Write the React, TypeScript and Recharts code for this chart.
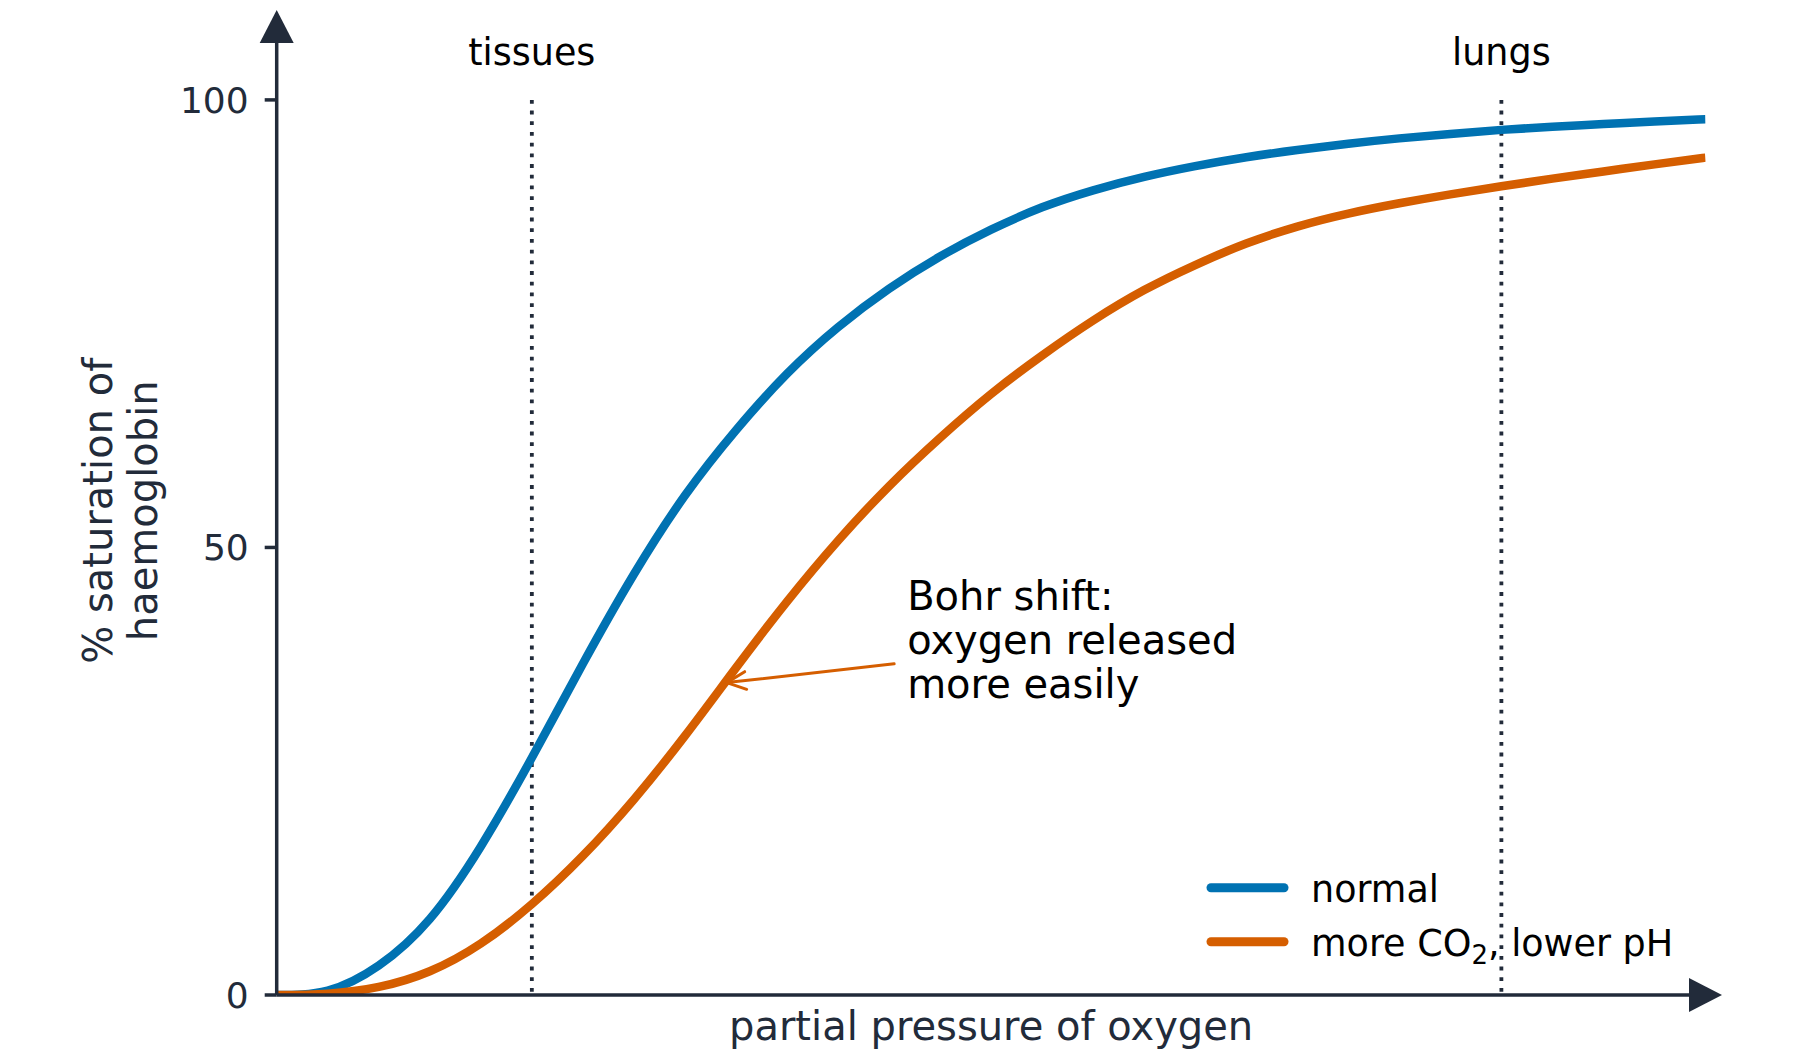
import React from "react";
import { LineChart, Line, XAxis, YAxis, ReferenceLine, ReferenceDot, Legend } from "recharts";

// partial pressure of oxygen (kPa)
const pressure = [
  0, 0.5, 1, 1.5, 2, 2.5, 3, 3.5, 4, 4.5, 5, 5.5, 6, 6.5, 7, 7.5, 8, 8.5, 9, 9.5, 10, 10.5, 11, 11.5,
  12, 12.5, 13, 13.5, 14,
];
// % saturation, normal conditions
const normalSat = [
  0, 0.5, 3.3, 8.5, 16.6, 26.5, 37.0, 47.0, 55.8, 63.1, 69.4, 74.6, 78.9, 82.5, 85.5, 88.0, 89.9, 91.4,
  92.6, 93.6, 94.4, 95.1, 95.7, 96.2, 96.65, 97.0, 97.3, 97.6, 97.85,
];
// % saturation with more CO2 / lower pH
const shiftedSat = [
  0, 0.15, 0.9, 2.65, 5.75, 10.15, 15.55, 21.85, 28.95, 36.55, 43.95, 50.75, 56.85, 62.25, 67.15, 71.45,
  75.35, 78.75, 81.55, 83.95, 85.85, 87.3, 88.45, 89.45, 90.35, 91.2, 92.0, 92.8, 93.55,
];

const yTicks = [0, 50, 100];
const markers = [
  { p: 2.5, label: "tissues" },
  { p: 12, label: "lungs" },
];
const bohrArrow = [
  { x: 6.05, y: 37 },
  { x: 4.41, y: 34.9 },
];
const bohrText = ["Bohr shift:", "oxygen released", "more easily"];

const X_MAX = 14;
const Y_MAX = 108.2;

const AXIS = "#222b3a";
const BLUE = "#0072B2";
const ORANGE = "#D55E00";
const FONT = "'DejaVu Sans', sans-serif";

const data = pressure.map((p, i) => ({ p, normal: normalSat[i], shifted: shiftedSat[i] }));

const UpArrow = (props: any) => {
  const { cx, cy } = props;
  return <path d={`M${cx - 17},${cy + 16.5} L${cx + 17},${cy + 16.5} L${cx},${cy - 16.5} Z`} fill={AXIS} />;
};

const RightArrow = (props: any) => {
  const { cx, cy } = props;
  return <path d={`M${cx - 16.5},${cy - 17} L${cx + 16.5},${cy} L${cx - 16.5},${cy + 17} Z`} fill={AXIS} />;
};

// annotation arrow plus its text block, anchored at the tail
const BohrArrow = (props: any) => {
  const { x1, y1, x2, y2 } = props;
  const dx = x1 - x2;
  const dy = y1 - y2;
  const len = Math.hypot(dx, dy);
  const ux = dx / len;
  const uy = dy / len;
  const head = 21;
  const a = (25 * Math.PI) / 180;
  const arm = (s: number) => {
    const c = Math.cos(a * s);
    const sn = Math.sin(a * s);
    return [x2 + head * (ux * c - uy * sn), y2 + head * (ux * sn + uy * c)];
  };
  const [ax1, ay1] = arm(1);
  const [ax2, ay2] = arm(-1);
  return (
    <g>
      <line x1={x1} y1={y1} x2={x2} y2={y2} stroke={ORANGE} strokeWidth={3} strokeLinecap="round" />
      <path
        d={`M${ax1},${ay1} L${x2},${y2} L${ax2},${ay2}`}
        fill="none"
        stroke={ORANGE}
        strokeWidth={3}
        strokeLinecap="round"
        strokeLinejoin="round"
      />
      {bohrText.map((t, i) => (
        <text key={t} x={x1 + 13} y={y1 - 54 + i * 44} fill="#000" fontSize={40} fontFamily={FONT}>
          {t}
        </text>
      ))}
    </g>
  );
};

const legendName = (name: string) => {
  const idx = name.indexOf("CO2");
  if (idx < 0) return name;
  return (
    <>
      {name.slice(0, idx + 2)}
      <tspan dy={8} fontSize={26}>
        2
      </tspan>
      <tspan dy={-8}>{name.slice(idx + 3)}</tspan>
    </>
  );
};

const renderLegend = (props: any) => {
  const items = props.payload ?? [];
  return (
    <svg width={520} height={110} style={{ display: "block", overflow: "visible" }}>
      {items.map((item: any, i: number) => {
        const cy = 27.7 + i * 54;
        return (
          <g key={String(item.value)}>
            <line x1={21} x2={94} y1={cy} y2={cy} stroke={item.color} strokeWidth={9} strokeLinecap="round" />
            <text x={121} y={cy + 14} fill="#000" fontSize={36.5} fontFamily={FONT}>
              {legendName(String(item.value))}
            </text>
          </g>
        );
      })}
    </svg>
  );
};

const YLabel = (props: any) => {
  const { viewBox } = props;
  const cy = viewBox.y + viewBox.height / 2;
  const lines = [
    { x: viewBox.x + 112, t: "% saturation of" },
    { x: viewBox.x + 157, t: "haemoglobin" },
  ];
  return (
    <g>
      {lines.map((l) => (
        <text
          key={l.t}
          x={l.x}
          y={cy}
          transform={`rotate(-90 ${l.x} ${cy})`}
          textAnchor="middle"
          fill={AXIS}
          fontSize={40}
          fontFamily={FONT}
        >
          {l.t}
        </text>
      ))}
    </g>
  );
};

const XLabel = (props: any) => {
  const { viewBox } = props;
  return (
    <text
      x={viewBox.x + viewBox.width / 2}
      y={viewBox.y + 45}
      textAnchor="middle"
      fill={AXIS}
      fontSize={40}
      fontFamily={FONT}
    >
      partial pressure of oxygen
    </text>
  );
};

export default function App() {
  return (
    <div style={{ position: "absolute", left: 0, top: 0, width: 1800, height: 1064, background: "#fff" }}>
      <LineChart
        width={1800}
        height={1064}
        data={data}
        margin={{ top: 26.5, right: 94.5, bottom: 0, left: 0 }}
        style={{ fontFamily: FONT }}
      >
        <XAxis
          type="number"
          dataKey="p"
          domain={[0, X_MAX]}
          allowDataOverflow
          tick={false}
          tickLine={false}
          height={69}
          axisLine={{ stroke: AXIS, strokeWidth: 3.5 }}
          label={{ content: XLabel }}
        />
        <YAxis
          type="number"
          domain={[0, Y_MAX]}
          allowDataOverflow
          ticks={yTicks}
          width={276.7}
          tickSize={12}
          tickMargin={16}
          tick={{ fill: AXIS, fontSize: 36 }}
          tickLine={{ stroke: AXIS, strokeWidth: 3.5 }}
          axisLine={{ stroke: AXIS, strokeWidth: 3.5 }}
          label={{ content: YLabel }}
        />
        {markers.map((m) => (
          <ReferenceLine
            key={m.label}
            segment={[
              { x: m.p, y: 100 },
              { x: m.p, y: 0 },
            ]}
            stroke={AXIS}
            strokeWidth={3.8}
            strokeDasharray="3.8 6.9"
            ifOverflow="visible"
            label={{ value: m.label, position: "top", offset: 35, fill: "#000", fontSize: 36.5, fontFamily: FONT }}
          />
        ))}
        <Line
          type="natural"
          dataKey="normal"
          name="normal"
          stroke={BLUE}
          strokeWidth={8.5}
          dot={false}
          activeDot={false}
          isAnimationActive={false}
        />
        <Line
          type="natural"
          dataKey="shifted"
          name="more CO2, lower pH"
          stroke={ORANGE}
          strokeWidth={8.5}
          dot={false}
          activeDot={false}
          isAnimationActive={false}
        />
        <ReferenceLine segment={bohrArrow} ifOverflow="visible" shape={BohrArrow} />
        <ReferenceDot x={0} y={Y_MAX} ifOverflow="visible" shape={UpArrow} />
        <ReferenceDot x={X_MAX} y={0} ifOverflow="visible" shape={RightArrow} />
        <Legend
          layout="horizontal"
          verticalAlign="middle"
          align="center"
          itemSorter="dataKey"
          content={renderLegend}
          wrapperStyle={{ left: 1190, top: 860, width: 520, height: 110 }}
        />
      </LineChart>
    </div>
  );
}
